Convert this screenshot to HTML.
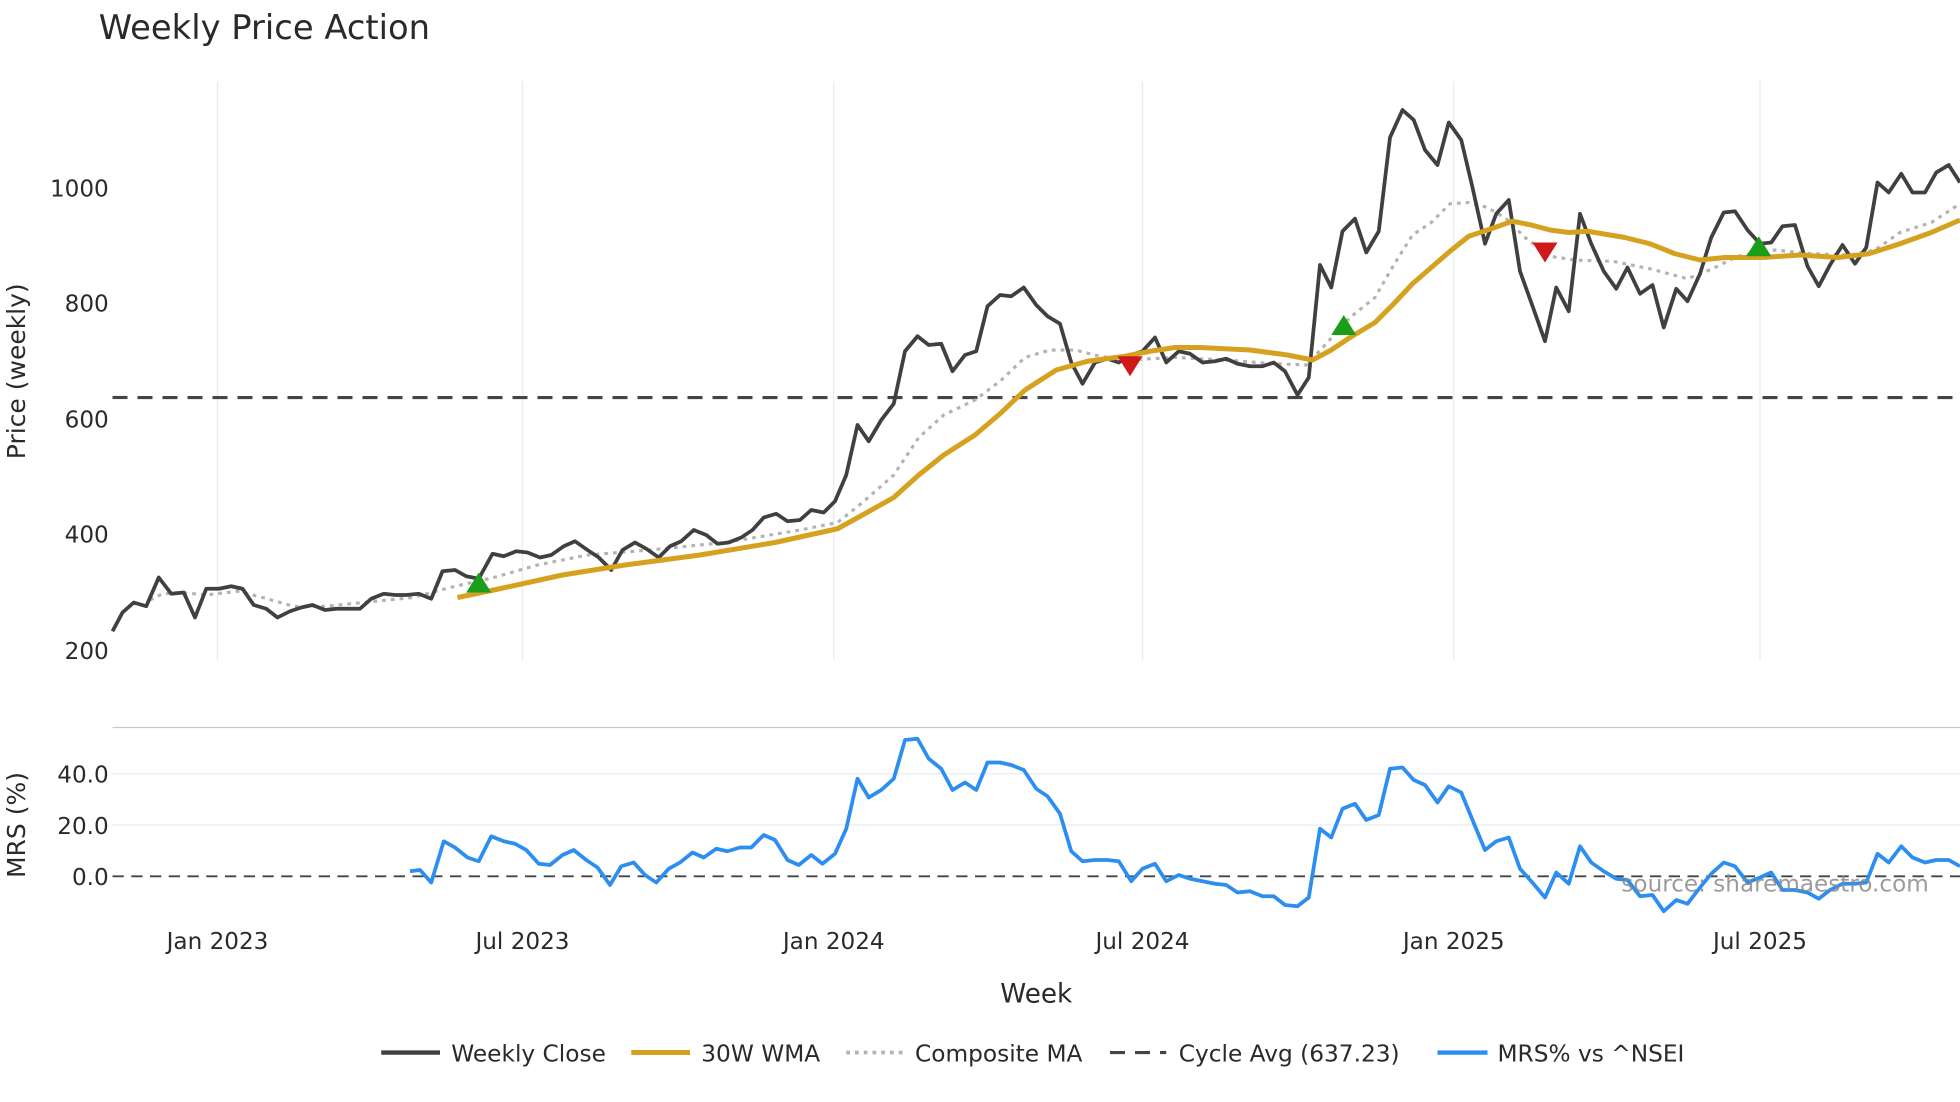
<!DOCTYPE html>
<html><head><meta charset="utf-8"><style>
html,body{margin:0;padding:0;background:#fff;}
svg{display:block;font-family:"DejaVu Sans","Liberation Sans",sans-serif;}
</style></head><body>
<svg width="1960" height="1102" viewBox="0 0 1568 881.6" xmlns="http://www.w3.org/2000/svg">
<rect width="1568" height="881.6" fill="#fff"/>
<text x="79" y="31" font-size="27" fill="#2a2a2a">Weekly Price Action</text>
<g stroke="#e8ebf2" stroke-width="1">
<line x1="174" y1="65" x2="174" y2="528"/><line x1="418" y1="65" x2="418" y2="528"/>
<line x1="667" y1="65" x2="667" y2="528"/><line x1="914" y1="65" x2="914" y2="528"/>
<line x1="1163" y1="65" x2="1163" y2="528"/><line x1="1408" y1="65" x2="1408" y2="528"/>
<line x1="90" y1="619" x2="1568" y2="619"/><line x1="90" y1="660" x2="1568" y2="660"/>
</g>
<line x1="90" y1="582" x2="1568" y2="582" stroke="#c8c8c8" stroke-width="1"/>
<g font-size="18.5" fill="#2a2a2a" text-anchor="end">
<text x="87" y="157">1000</text><text x="87" y="249">800</text><text x="87" y="342">600</text>
<text x="87" y="434">400</text><text x="87" y="527">200</text>
<text x="87" y="626">40.0</text><text x="87" y="667">20.0</text><text x="87" y="708">0.0</text>
</g>
<text transform="translate(20,297) rotate(-90)" font-size="20" fill="#2a2a2a" text-anchor="middle">Price (weekly)</text>
<text transform="translate(20,660) rotate(-90)" font-size="20" fill="#2a2a2a" text-anchor="middle">MRS (%)</text>
<g font-size="18.5" fill="#2a2a2a" text-anchor="middle">
<text x="174" y="759">Jan 2023</text><text x="418" y="759">Jul 2023</text><text x="667" y="759">Jan 2024</text>
<text x="914" y="759">Jul 2024</text><text x="1163" y="759">Jan 2025</text><text x="1408" y="759">Jul 2025</text>
</g>
<text x="829" y="802" font-size="21" fill="#2a2a2a" text-anchor="middle">Week</text>
<line x1="90" y1="318" x2="1568" y2="318" stroke="#444" stroke-width="2.5" stroke-dasharray="12,8"/>
<line x1="90" y1="701" x2="1568" y2="701" stroke="#444" stroke-width="1.5" stroke-dasharray="9,6"/>
<polyline fill="none" stroke="#b3b3b3" stroke-width="2.5" stroke-dasharray="3,4" points="120,480 130,475 145,474 165,476 190,473 210,478 235,485 260,485 290,482 330,478 360,470 395,462 430,452 470,444 520,440 580,434 640,424 670,418 690,402 715,380 735,350 755,332 780,320 800,305 820,286 840,280 860,280 880,285 900,288 940,286 980,288 1020,291 1045,292 1060,276 1080,254 1100,238 1115,212 1130,188 1145,178 1160,163 1175,162 1190,166 1205,175 1220,190 1240,205 1260,208 1290,209 1320,215 1350,223 1370,215 1390,205 1420,200 1450,203 1480,204 1500,200 1520,186 1545,178 1568,163"/>
<polyline fill="none" stroke="#404040" stroke-width="3" stroke-linejoin="round" points="90,505 98,490 107,482 117,485 127,462 137,475 147,474 156,494 165,471 175,471 185,469 194,471 203,484 213,487 222,494 232,489 241,486 250,484 260,488 269,487 279,487 288,487 297,479 307,475 316,476 325,476 335,475 345,479 354,457 364,456 373,461 383,463 394,443 403,445 413,441 422,442 432,446 441,444 451,437 460,433 470,440 479,446 489,456 498,440 508,434 517,439 527,446 536,437 545,433 555,424 565,428 574,435 583,434 593,430 602,424 611,414 621,411 630,417 640,416 649,408 659,410 668,401 677,380 686,340 695,353 705,336 715,323 724,281 734,269 743,276 753,275 762,297 772,284 781,281 790,245 800,236 809,237 819,230 829,244 838,253 848,259 857,290 866,307 876,290 886,287 895,290 905,284 914,281 924,270 933,290 943,281 952,283 962,290 972,289 981,287 990,291 1000,293 1010,293 1019,290 1028,297 1038,316 1047,302 1056,212 1065,230 1074,185 1084,175 1093,202 1103,185 1112,110 1122,88 1131,96 1140,120 1150,132 1159,98 1169,112 1178,150 1188,195 1197,171 1207,160 1216,217 1225,242 1236,273 1245,230 1255,249 1264,171 1273,195 1283,217 1293,231 1302,214 1312,235 1322,228 1331,262 1341,231 1350,241 1360,219 1369,190 1379,170 1388,169 1398,184 1408,195 1417,194 1426,181 1436,180 1446,213 1455,229 1464,212 1474,196 1484,211 1493,198 1502,146 1511,154 1521,139 1530,154 1540,154 1549,138 1559,132 1568,146"/>
<polyline fill="none" stroke="#d4a21f" stroke-width="4" stroke-linejoin="round" points="366,478 395,472 450,460 500,452 560,444 620,434 670,423 690,412 715,398 735,380 755,364 780,348 800,331 820,312 845,296 870,289 900,285 920,281 940,278 960,278 1000,280 1030,284 1050,288 1065,280 1080,270 1100,258 1115,243 1130,227 1145,214 1160,201 1175,189 1190,184 1210,177 1225,180 1240,184 1255,186 1270,185 1300,190 1320,195 1340,203 1360,208 1380,206 1410,206 1440,204 1470,206 1495,203 1520,195 1545,186 1568,176"/>
<g fill="#1a9e1a">
<polygon points="383,458 373,474 393,474"/><polygon points="1075,252 1065,268 1085,268"/><polygon points="1407,189 1397,205 1417,205"/>
</g>
<g fill="#d01818">
<polygon points="904,301 894,285 914,285"/><polygon points="1236,210 1226,194 1246,194"/>
</g>
<polyline fill="none" stroke="#2b8ef0" stroke-width="3" stroke-linejoin="round" points="328,697 336,696 345,706 355,673 364,678 374,686 383,689 393,669 403,673 412,675 421,680 431,691 440,692 450,684 459,680 469,688 478,694 488,708 497,693 507,690 516,700 525,706 535,695 544,690 554,682 563,686 573,679 582,681 592,678 601,678 611,668 620,672 630,688 639,692 649,684 658,691 668,683 677,663 686,623 695,638 705,632 715,623 724,592 734,591 743,607 753,615 762,632 772,626 781,632 790,610 800,610 809,612 819,616 829,631 838,637 848,651 857,681 866,689 876,688 886,688 895,689 905,705 914,695 924,691 933,705 943,700 952,703 962,705 972,707 981,708 990,714 1000,713 1010,717 1019,717 1028,724 1038,725 1047,718 1056,663 1065,670 1074,647 1084,643 1093,656 1103,652 1112,615 1122,614 1131,624 1140,628 1150,642 1159,629 1169,634 1178,656 1188,680 1197,673 1207,670 1216,695 1225,705 1236,718 1245,698 1255,707 1264,677 1273,690 1283,697 1293,703 1302,704 1312,717 1322,716 1331,729 1341,720 1350,723 1360,710 1369,699 1379,690 1388,693 1398,706 1408,702 1417,698 1426,712 1436,712 1446,714 1455,719 1464,712 1474,707 1484,707 1493,706 1502,683 1511,690 1521,677 1530,686 1540,690 1549,688 1559,688 1568,693"/>
<text x="1543" y="713" font-size="18.5" fill="#8a8a8a" fill-opacity="0.85" text-anchor="end">source: sharemaestro.com</text>
<g font-size="18.6" fill="#2a2a2a">
<line x1="305" y1="842" x2="352" y2="842" stroke="#404040" stroke-width="3.5"/><text x="361" y="849">Weekly Close</text>
<line x1="505" y1="842" x2="552" y2="842" stroke="#d4a21f" stroke-width="4"/><text x="561" y="849">30W WMA</text>
<line x1="677" y1="842" x2="722" y2="842" stroke="#b3b3b3" stroke-width="3" stroke-dasharray="3,4"/><text x="732" y="849">Composite MA</text>
<line x1="888" y1="842" x2="933" y2="842" stroke="#444" stroke-width="2.5" stroke-dasharray="12,8"/><text x="943" y="849">Cycle Avg (637.23)</text>
<line x1="1150" y1="842" x2="1190" y2="842" stroke="#2b8ef0" stroke-width="3.5"/><text x="1198" y="849">MRS% vs ^NSEI</text>
</g>
</svg>
</body></html>
